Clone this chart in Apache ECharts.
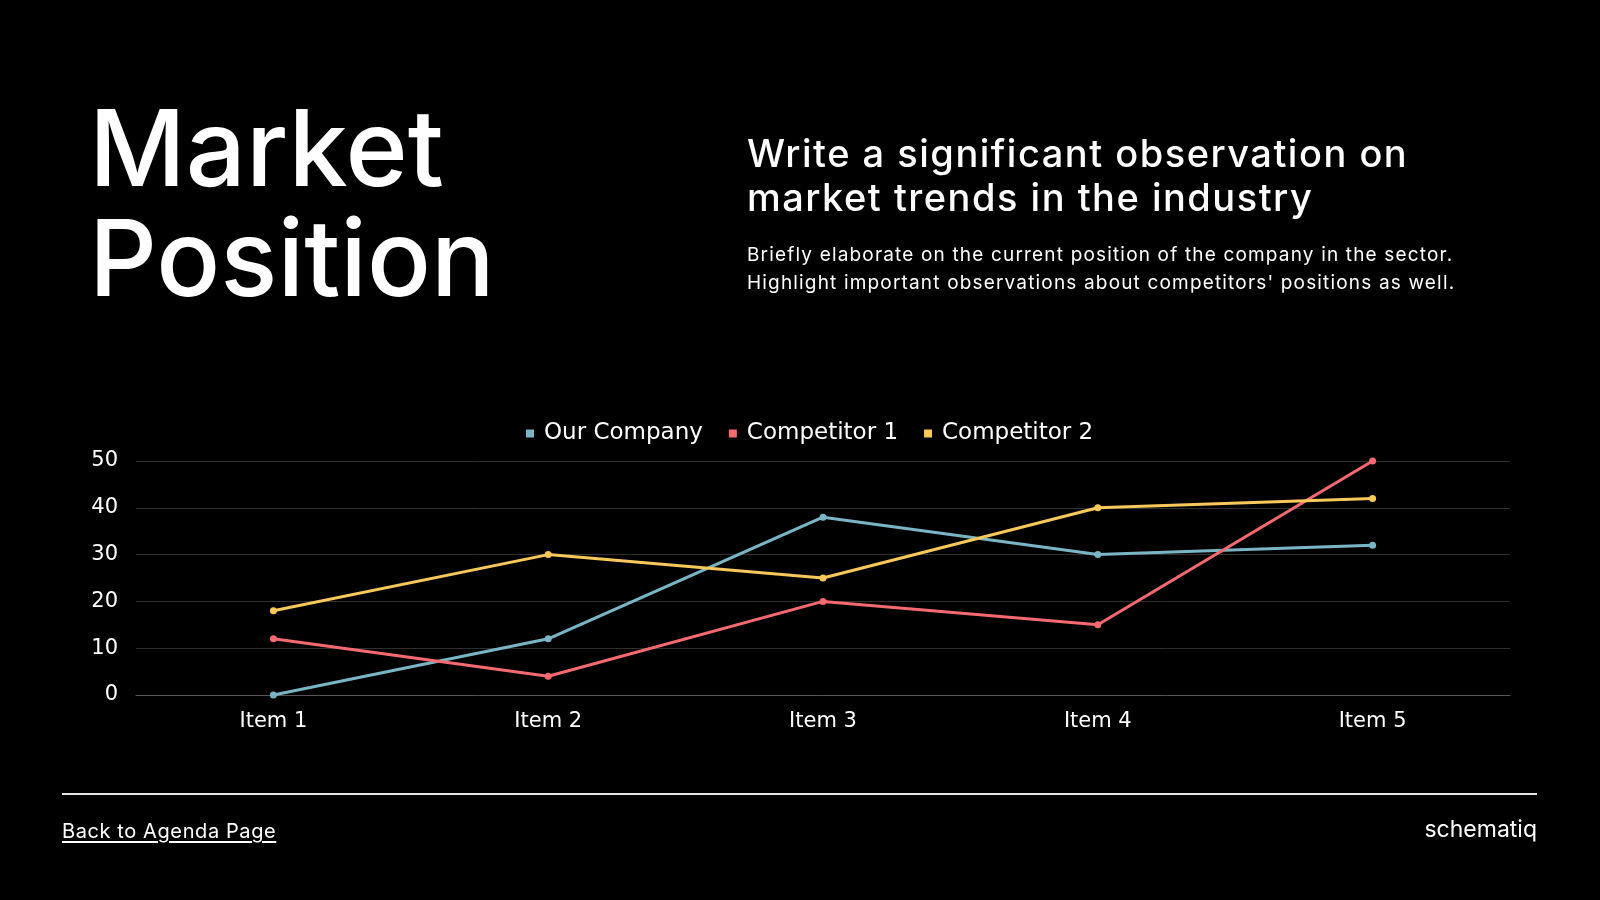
<!DOCTYPE html>
<html>
<head>
<meta charset="utf-8">
<script src="https://cdn.jsdelivr.net/npm/echarts@6/dist/echarts.min.js"></script>
<style>
  html, body { margin:0; padding:0; background:#000; width:1600px; height:900px; overflow:hidden; }
  body { position:relative; font-family: Inter, "Noto Sans", sans-serif; color:#fff; }
  #chart { position:absolute; left:0; top:0; width:1600px; height:900px; }
  .t { position:absolute; white-space:nowrap; }
  #title { left:89px; top:93px; font-size:106px; line-height:110px; font-weight:500; letter-spacing:0px; }
  #sub { left:747px; top:131px; font-size:38px; line-height:44px; font-weight:500; letter-spacing:1.5px; }
  #body { left:747px; top:241px; font-size:19px; line-height:27.7px; font-weight:400; letter-spacing:1.17px; }
  #rule { position:absolute; left:62px; top:793px; width:1475px; height:2px; background:#e6e6e6; }
  #back { left:62px; top:821px; font-size:20px; line-height:20px; letter-spacing:0.6px; text-decoration:underline; text-underline-offset:3px; }
  #brand { right:63px; top:818px; font-size:23px; line-height:23px; font-weight:400; letter-spacing:0px; }
</style>
</head>
<body>
<div id="chart"></div>
<div class="t" id="title">Market<br>Position</div>
<div class="t" id="sub">Write a significant observation on<br>market trends in the industry</div>
<div class="t" id="body">Briefly elaborate on the current position of the company in the sector.<br>Highlight important observations about competitors' positions as well.</div>
<div id="rule"></div>
<div class="t" id="back">Back to Agenda Page</div>
<div class="t" id="brand">schematiq</div>
<script>
const categories = ['Item 1', 'Item 2', 'Item 3', 'Item 4', 'Item 5'];
const seriesNames = ['Our Company', 'Competitor 1', 'Competitor 2'];
const ourCompany = [0, 12, 38, 30, 32];
const competitor1 = [12, 4, 20, 15, 50];
const competitor2 = [18, 30, 25, 40, 42];
const yTicks = [0, 10, 20, 30, 40, 50];

const colors = ['#7ab5c6', '#f56a70', '#f8c85b'];
const values = [ourCompany, competitor1, competitor2];
const chartFont = '"DejaVu Sans", Inter, sans-serif';

const chart = echarts.init(document.getElementById('chart'), null, { renderer: 'canvas' });
chart.setOption({
  backgroundColor: 'transparent',
  color: colors,
  textStyle: { fontFamily: chartFont },
  legend: {
    left: 521, top: 417,
    icon: 'rect', itemWidth: 8, itemHeight: 8, itemGap: 26,
    textStyle: { color: '#fff', fontSize: 23, fontFamily: chartFont, padding: [0, 0, 0, 5] },
    data: seriesNames
  },
  grid: { left: 136, right: 90, top: 461, bottom: 205 },
  xAxis: {
    type: 'category', data: categories, boundaryGap: true,
    axisLine: { show: true, lineStyle: { color: '#555', width: 1 } },
    axisTick: { show: false },
    axisLabel: { color: '#fff', fontSize: 21, margin: 16, fontFamily: chartFont }
  },
  yAxis: {
    type: 'value', min: yTicks[0], max: yTicks[yTicks.length - 1], interval: 10,
    axisLine: { show: false }, axisTick: { show: false },
    axisLabel: { color: '#fff', fontSize: 21, margin: 18, fontFamily: chartFont, padding: [3, 0, 0, 0] },
    splitLine: { lineStyle: { color: '#2f2f2f', width: 1 } }
  },
  series: seriesNames.map((n, i) => ({
    name: n, type: 'line', data: values[i],
    symbol: 'circle', symbolSize: 7,
    lineStyle: { width: 3, color: colors[i] },
    itemStyle: { color: colors[i] },
    animation: false
  }))
});
</script>
</body>
</html>
